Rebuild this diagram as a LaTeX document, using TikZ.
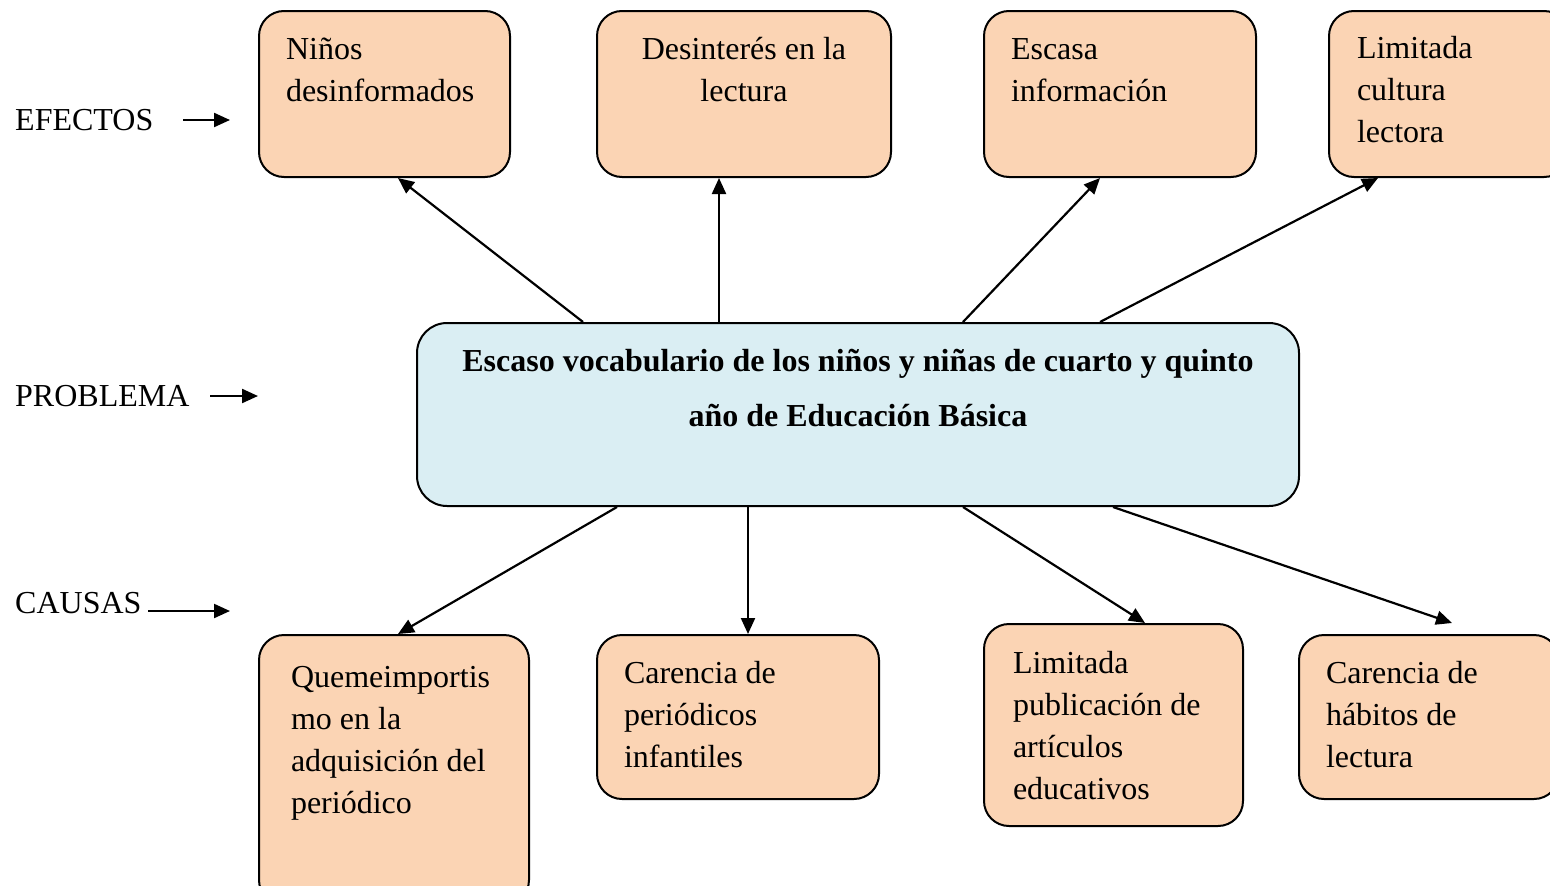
\documentclass[tikz,border=0pt]{standalone}
\usepackage{fontspec}
\setmainfont{Liberation Serif}
\usepackage{tikz}
\usetikzlibrary{arrows.meta}
\usepackage{xcolor}

\definecolor{peach}{HTML}{FBD4B4}
\definecolor{paleblue}{HTML}{DAEEF3}

% box text: width, height, first baseline, lines
\newcommand{\boxtext}[4]{\parbox[c][#2][t]{#1}{\raggedright\rule{0pt}{#3}#4}}
\newcommand{\ctrtext}[4]{\parbox[c][#2][t]{#1}{\centering\rule{0pt}{#3}#4}}

\tikzset{
  effbox/.style={draw, line width=2pt, fill=peach, rounded corners=25pt,
    inner xsep=27pt, inner ysep=0pt, anchor=north west},
  probbox/.style={draw, line width=2pt, fill=paleblue, rounded corners=30pt,
    inner sep=0pt, anchor=north west},
  sidelbl/.style={anchor=base west, inner sep=0pt},
  arr/.style={line width=2.2pt, -{Triangle[length=16pt,width=14pt]}},
}

\begin{document}
\begin{tikzpicture}[x=1pt, y=-1pt, font=\fontsize{32}{42}\selectfont]
        \useasboundingbox (0,0) rectangle (1550,886);
        \clip (0,0) rectangle (1550,886);

        % efectos
        \node[effbox] (e1) at (258,10) {\boxtext{197pt}{166pt}{48pt}{Niños\\desinformados}};
        \node[effbox, inner xsep=0pt] (e2) at (596,10) {\ctrtext{294pt}{166pt}{48pt}{Desinterés en la\\lectura}};
        \node[effbox] (e3) at (983,10) {\boxtext{218pt}{166pt}{48pt}{Escasa\\información}};
        \node[effbox, inner xsep=28pt] (e4) at (1328,10) {\boxtext{184pt}{166pt}{47pt}{Limitada\\cultura\\lectora}};

        % problema
        \node[probbox] (p) at (416,322) {\parbox[c][183pt][t]{882pt}{\centering\bfseries\fontsize{32}{55}\selectfont
          \rule{0pt}{48pt}Escaso vocabulario de los niños y niñas de cuarto y quinto\\año de Educación Básica}};

        % causas
        \node[effbox, inner xsep=32pt] (c1) at (258,634) {\boxtext{206pt}{270pt}{52pt}{Quemeimportis\\mo en la\\adquisición del\\periódico}};
        \node[effbox] (c2) at (596,634) {\boxtext{228pt}{164pt}{48pt}{Carencia de\\periódicos\\infantiles}};
        \node[effbox, inner xsep=29pt] (c3) at (983,623) {\boxtext{201pt}{202pt}{49pt}{Limitada\\publicación de\\artículos\\educativos}};
        \node[effbox] (c4) at (1298,634) {\boxtext{206pt}{164pt}{48pt}{Carencia de\\hábitos de\\lectura}};

        % labels on the left
        \node[sidelbl] (efe) at (15,130) {EFECTOS};
        \node[sidelbl] (pro) at (15,406) {PROBLEMA};
        \node[sidelbl] (cau) at (15,613) {CAUSAS};
        \coordinate (efe-a) at (183,120);
        \coordinate (efe-b) at (230,120);
        \coordinate (pro-a) at (210,396);
        \coordinate (pro-b) at (258,396);
        \coordinate (cau-a) at (148,611);
        \coordinate (cau-b) at (230,611);
        \draw[arr] (efe-a) -- (efe-b);
        \draw[arr] (pro-a) -- (pro-b);
        \draw[arr] (cau-a) -- (cau-b);

        % problema -> efectos
        \draw[arr] ([xshift=167pt]p.north west) -- ([xshift=140pt]e1.south west);
        \draw[arr] ([xshift=303pt]p.north west) -- ([xshift=123pt]e2.south west);
        \draw[arr] ([xshift=547pt]p.north west) -- ([xshift=117pt]e3.south west);
        \draw[arr] ([xshift=684pt]p.north west) -- ([xshift=50pt]e4.south west);

        % problema -> causas
        \draw[arr] ([xshift=201pt]p.south west) -- ([xshift=140pt]c1.north west);
        \draw[arr] ([xshift=332pt]p.south west) -- ([xshift=152pt]c2.north west);
        \draw[arr] ([xshift=547pt]p.south west) -- ([xshift=162pt]c3.north west);
        \draw[arr] ([xshift=697pt]p.south west) -- ([xshift=154pt,yshift=11pt]c4.north west);
      \end{tikzpicture}
\end{document}
